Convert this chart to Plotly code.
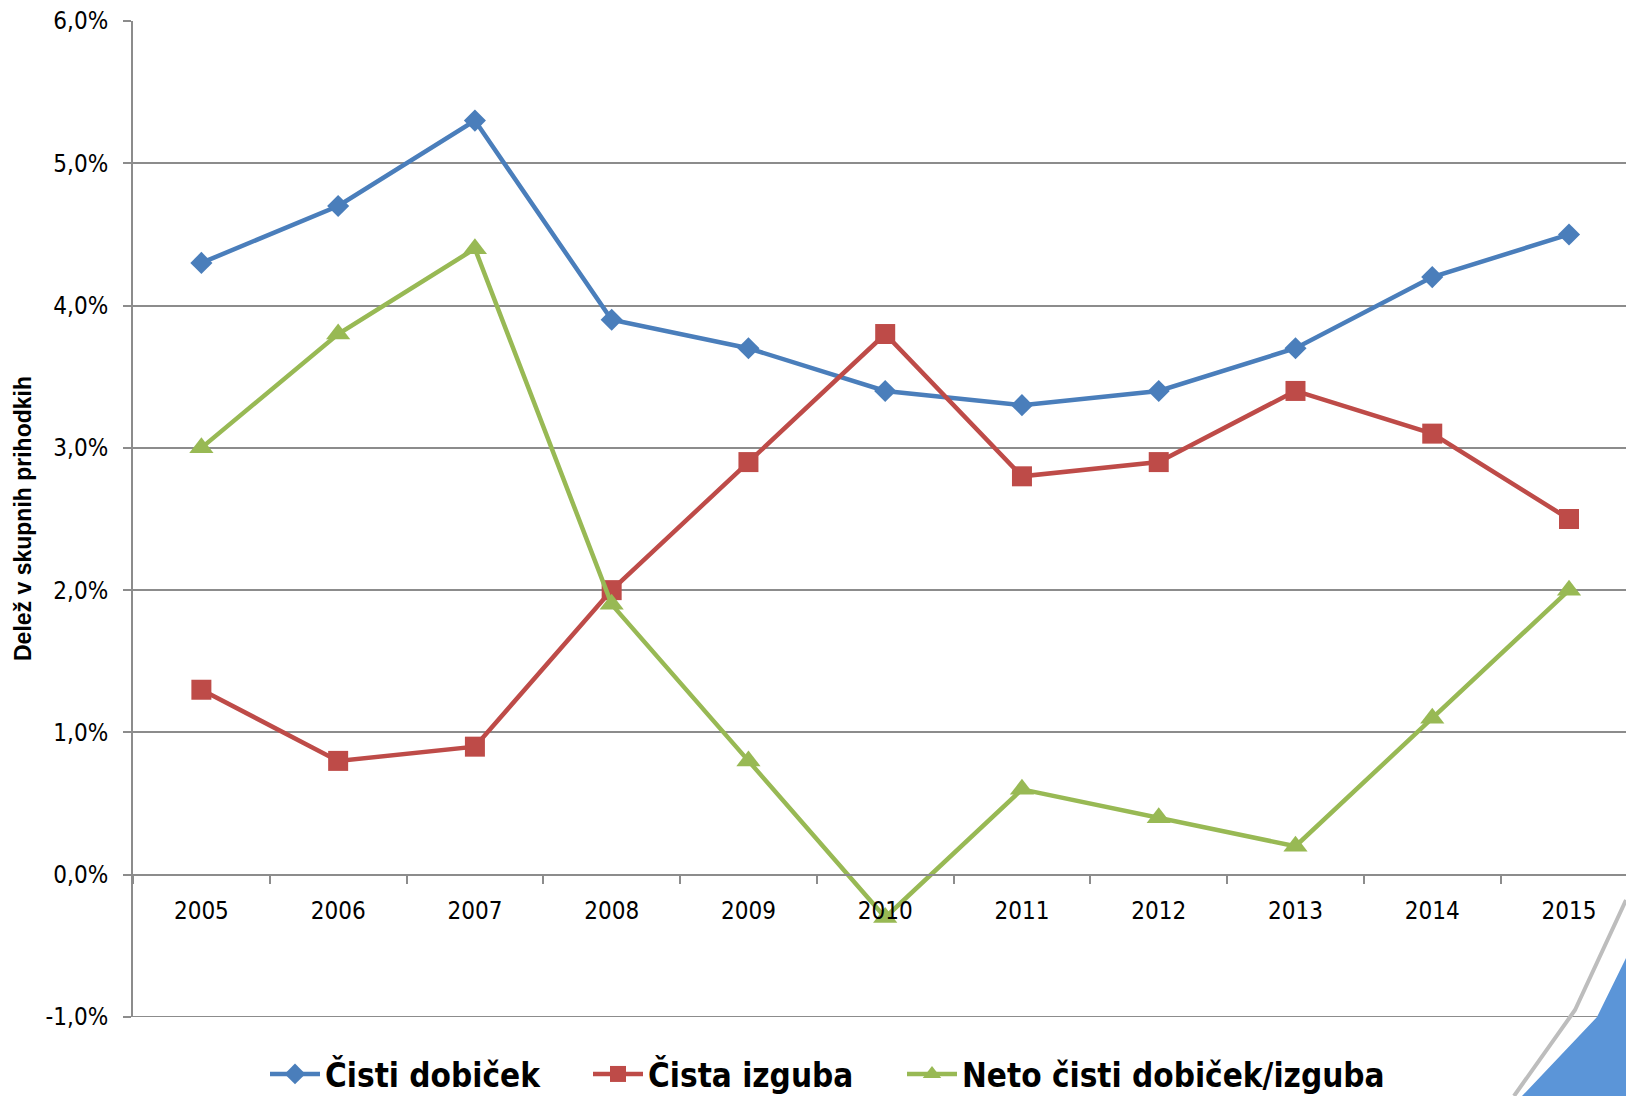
import plotly.graph_objects as go

years = ["2005", "2006", "2007", "2008", "2009", "2010", "2011", "2012", "2013", "2014", "2015"]
cisti_dobicek = [4.3, 4.7, 5.3, 3.9, 3.7, 3.4, 3.3, 3.4, 3.7, 4.2, 4.5]
cista_izguba = [1.3, 0.8, 0.9, 2.0, 2.9, 3.8, 2.8, 2.9, 3.4, 3.1, 2.5]
neto = [3.0, 3.8, 4.4, 1.9, 0.8, -0.3, 0.6, 0.4, 0.2, 1.1, 2.0]
series_names = ["Čisti dobiček", "Čista izguba", "Neto čisti dobiček/izguba"]
y_title = "Delež v skupnih prihodkih"
y_ticks = [-1, 0, 1, 2, 3, 4, 5, 6]
y_tick_labels = ["-1,0%", "0,0%", "1,0%", "2,0%", "3,0%", "4,0%", "5,0%", "6,0%"]

W, H = 1626, 1096
L, R, T, B = 133, 0, 21, 79
PW, PH = W - L - R, H - T - B
YMIN, YMAX = -1, 6

def px(x):
    return (x - L) / PW

def py(y):
    return (H - B - y) / PH

FONT = "Liberation Sans Narrow, Arial Narrow, DejaVu Sans Condensed, sans-serif"
GRID = "#8c8c8c"

fig = go.Figure()
styles = [
    dict(color="#4A7EBB", symbol="diamond", size=17, legend="legend", tx=325),
    dict(color="#BE4B48", symbol="square", size=20, legend="legend2", tx=648),
    dict(color="#98B954", symbol="triangle-up", size=21, legend="legend3", tx=962),
]
for name, vals, st in zip(series_names, [cisti_dobicek, cista_izguba, neto], styles):
    fig.add_trace(go.Scatter(
        x=years, y=vals, name=name, mode="lines+markers",
        line=dict(color=st["color"], width=4.5),
        marker=dict(color=st["color"], symbol=st["symbol"], size=st["size"]),
        cliponaxis=False, legend=st["legend"],
    ))

# bottom gridline at the axis minimum (plotly omits the edge gridline)
fig.add_shape(type="line", xref="paper", yref="y", x0=-8 / PW, x1=1, y0=YMIN, y1=YMIN,
              line=dict(color=GRID, width=2), layer="below")

# corner decoration
fig.add_shape(type="path", xref="paper", yref="paper",
              path=f"M {px(1626)},{py(958)} L {px(1597)},{py(1017)} L {px(1522)},{py(1096)} L {px(1626)},{py(1096)} Z",
              fillcolor="#5b95d8", line=dict(width=0), layer="below")
fig.add_shape(type="path", xref="paper", yref="paper",
              path=f"M {px(1626)},{py(900)} L {px(1575)},{py(1010)} L {px(1514)},{py(1096)}",
              line=dict(color="#bdbdbd", width=4), layer="below")

fig.add_annotation(
    text="<b>" + y_title + "</b>", textangle=-90,
    xref="paper", yref="paper", x=px(23), y=py(519), xanchor="center", yanchor="middle",
    showarrow=False, font=dict(family="Liberation Sans, Arial, sans-serif", size=23, color="black"),
)

zero_pos = (0 - YMIN) / (YMAX - YMIN)

leg_common = dict(
    orientation="h", xref="container", yref="container", xanchor="left", yanchor="middle",
    y=(H - 1074) / H,
    font=dict(family=FONT, size=33, color="black", weight="bold"),
    bgcolor="rgba(0,0,0,0)", itemwidth=50, borderwidth=0,
)
legends = {}
for st in styles:
    legends[st["legend"]] = dict(leg_common, x=(st["tx"] - 60) / W)

fig.update_layout(
    width=W, height=H,
    margin=dict(l=L, r=R, t=T, b=B),
    paper_bgcolor="white", plot_bgcolor="white",
    font=dict(family=FONT, color="black", size=24),
    showlegend=True,
    **legends,
    xaxis=dict(
        type="category", range=[-0.5, (W - 201) / 136.8],
        anchor="free", position=zero_pos, automargin=False,
        showline=True, linecolor=GRID, linewidth=2,
        ticks="outside", ticklen=8, tickcolor=GRID, tickwidth=2,
        tickson="boundaries", showgrid=False,
        ticklabelstandoff=14,
        tickfont=dict(size=24, family=FONT),
    ),
    yaxis=dict(
        range=[YMIN, YMAX], tickvals=y_ticks, ticktext=y_tick_labels, automargin=False,
        showline=True, linecolor=GRID, linewidth=2,
        ticks="outside", ticklen=8, tickcolor=GRID, tickwidth=2,
        showgrid=True, gridcolor=GRID, gridwidth=1.5, zeroline=False,
        ticklabelstandoff=10,
        tickfont=dict(size=24, family=FONT),
    ),
)

fig.write_html("out.html", config={"displayModeBar": False},
               post_script="document.body.style.margin='0';document.body.style.overflow='hidden';")
